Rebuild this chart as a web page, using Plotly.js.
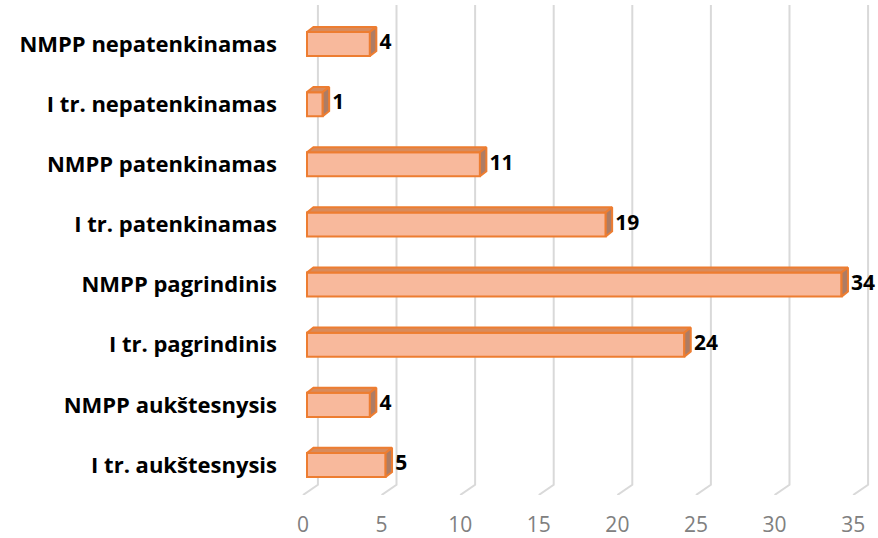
<!DOCTYPE html>
<html>
<head>
<meta charset="utf-8">
<script src="https://cdn.plot.ly/plotly-3.0.1.min.js"></script>
<style>
    html, body { margin: 0; padding: 0; background: #ffffff; }
    #chart { width: 878px; height: 538px; }
</style>
</head>
<body>
<div id="chart"></div>
<script>
// Chart data (bottom to top)
var categories = [
    'I tr. aukštesnysis',
    'NMPP aukštesnysis',
    'I tr. pagrindinis',
    'NMPP pagrindinis',
    'I tr. patenkinamas',
    'NMPP patenkinamas',
    'I tr. nepatenkinamas',
    'NMPP nepatenkinamas'
];
var values = [5, 4, 24, 34, 19, 11, 1, 4];
var xTicks = [0, 5, 10, 15, 20, 25, 30, 35];

// 3D look of the Excel bars
var half = 0.2;      // half bar thickness (category units)
var depthX = 0.41;   // side face depth (value units)
var depthY = 0.085;  // top face rise (category units)
var gridShift = 0.95; // vertical part of grid lines sits right of tick label
var FONT = '"Open Sans", sans-serif';

var idx = categories.map(function(c, i) { return i; });

// grid lines with their slanted foot, drawn on the tick axis
var gx = [], gy = [];
xTicks.forEach(function(t) {
    gx.push(t + gridShift, t + gridShift, t, null);
    gy.push(7.65, -0.33, -0.499, null);
});

var grid = {
    x: gx, y: gy, xaxis: 'x', yaxis: 'y',
    type: 'scatter', mode: 'lines',
    line: { color: '#d9d9d9', width: 2 },
    hoverinfo: 'skip', showlegend: false
};

// top faces
var tx = [], ty = [];
// side faces
var sx = [], sy = [];
values.forEach(function(v, i) {
    tx.push(0, v, v + depthX, depthX, 0, null);
    ty.push(i + half, i + half, i + half + depthY, i + half + depthY, i + half, null);
    sx.push(v, v + depthX, v + depthX, v, v, null);
    sy.push(i - half, i - half + depthY, i + half + depthY, i + half, i - half, null);
});

var topFaces = {
    x: tx, y: ty, xaxis: 'x2', yaxis: 'y',
    type: 'scatter', mode: 'lines', fill: 'toself', fillcolor: '#d88b5c',
    line: { color: '#ED7D31', width: 2 },
    hoverinfo: 'skip', showlegend: false
};

var sideFaces = {
    x: sx, y: sy, xaxis: 'x2', yaxis: 'y',
    type: 'scatter', mode: 'lines', fill: 'toself', fillcolor: '#ad7c64',
    line: { color: '#ED7D31', width: 2 },
    hoverinfo: 'skip', showlegend: false
};

var front = {
    x: values, y: idx, xaxis: 'x2', yaxis: 'y',
    type: 'bar', orientation: 'h', width: 2 * half,
    marker: { color: '#F8B99C', line: { color: '#ED7D31', width: 2 } },
    hoverinfo: 'x', showlegend: false
};

var labels = {
    x: values.map(function(v) { return v + depthX + 0.2; }), y: idx,
    xaxis: 'x2', yaxis: 'y',
    type: 'scatter', mode: 'text',
    text: values.map(String), textposition: 'middle right',
    textfont: { family: FONT, size: 21, color: '#000000', weight: 'bold' },
    cliponaxis: false, hoverinfo: 'skip', showlegend: false
};

var layout = {
    width: 878,
    height: 538,
    margin: { l: 300, r: 3, t: 0, b: 43 },
    paper_bgcolor: '#ffffff',
    plot_bgcolor: '#ffffff',
    showlegend: false,
    barmode: 'overlay',
    xaxis: {
        range: [-0.19, 36.39],
        tickvals: xTicks,
        showgrid: false, zeroline: false, showline: false,
        ticks: '',
        ticklabelstandoff: 15,
        tickfont: { family: FONT, size: 21, color: '#808080' }
    },
    xaxis2: {
        overlaying: 'x',
        range: [-0.445, 36.13],
        visible: false
    },
    yaxis: {
        range: [-0.499, 7.732],
        tickvals: idx,
        ticktext: categories,
        showgrid: false, zeroline: false, showline: false,
        ticks: '',
        ticklabelstandoff: 22,
        tickfont: { family: FONT, size: 22, color: '#000000', weight: 'bold' }
    },
    font: { family: FONT }
};

Plotly.newPlot('chart', [grid, front, topFaces, sideFaces, labels], layout, { displayModeBar: false, staticPlot: true });
</script>
</body>
</html>
